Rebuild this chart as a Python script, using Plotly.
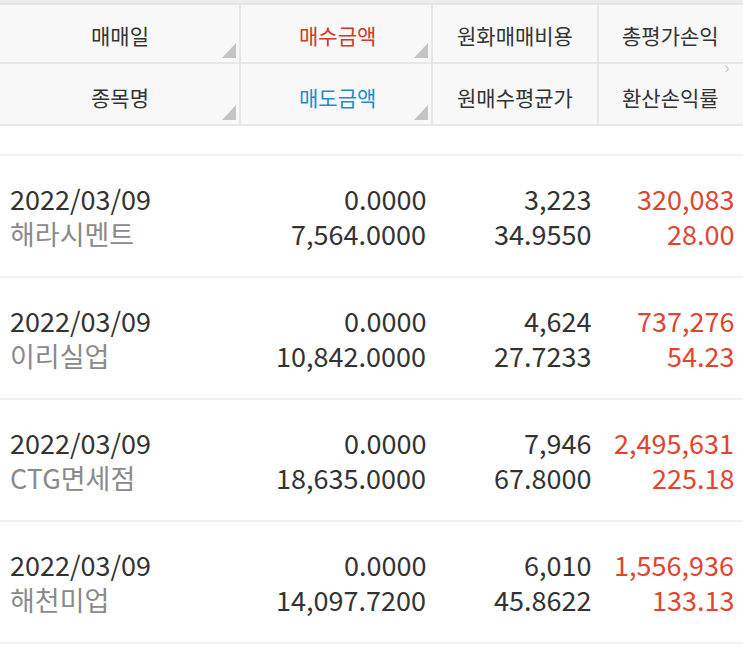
import plotly.graph_objects as go

headers_top = ["매매일", "매수금액", "원화매매비용", "총평가손익"]
headers_bot = ["종목명", "매도금액", "원매수평균가", "환산손익률"]
dates = ["2022/03/09", "2022/03/09", "2022/03/09", "2022/03/09"]
names = ["해라시멘트", "이리실업", "CTG면세점", "해천미업"]
buy_amt = ["0.0000", "0.0000", "0.0000", "0.0000"]
sell_amt = ["7,564.0000", "10,842.0000", "18,635.0000", "14,097.7200"]
krw_cost = ["3,223", "4,624", "7,946", "6,010"]
avg_price = ["34.9550", "27.7233", "67.8000", "45.8622"]
pnl = ["320,083", "737,276", "2,495,631", "1,556,936"]
rate = ["28.00", "54.23", "225.18", "133.13"]

W, H = 743, 648
font = "Noto Sans CJK KR"
fig = go.Figure()
shapes, ann = [], []
col_x = [0, 240, 432, 598, 743]
shapes.append(dict(type="rect", x0=0, x1=W, y0=0, y1=125, fillcolor="#f8f8f8", line_width=0, layer="below"))
shapes.append(dict(type="rect", x0=0, x1=W, y0=0, y1=4, fillcolor="#ececec", line_width=0, layer="below"))
for yy in [4, 63, 125]:
    shapes.append(dict(type="line", x0=0, x1=W, y0=yy, y1=yy, line=dict(color="#e2e2e2", width=1.5)))
for xx in col_x[1:4]:
    shapes.append(dict(type="line", x0=xx, x1=xx, y0=4, y1=125, line=dict(color="#e2e2e2", width=1.5)))
for xr in [236, 428]:
    for yb in [58, 120]:
        shapes.append(dict(type="path", path=f"M {xr} {yb} L {xr-14} {yb} L {xr} {yb-15} Z",
                           fillcolor="#c4c4c4", line_width=0))
hc = [120, 337, 515, 670]
top_colors = ["#333333", "#d0392b", "#333333", "#333333"]
bot_colors = ["#333333", "#1a8fd0", "#333333", "#333333"]
for i in range(4):
    ann.append(dict(x=hc[i], y=35, text=headers_top[i], font=dict(size=21, color=top_colors[i], family=font), showarrow=False))
    ann.append(dict(x=hc[i], y=97, text=headers_bot[i], font=dict(size=21, color=bot_colors[i], family=font), showarrow=False))
ann.append(dict(x=726, y=66, text="›", font=dict(size=18, color="#cccccc", family=font), showarrow=False))
for yy in [155, 277, 399, 521, 643]:
    shapes.append(dict(type="line", x0=0, x1=W, y0=yy, y1=yy, line=dict(color="#ececec", width=1.5)))
red = "#e0452f"
for r in range(4):
    y1 = 198 + 122 * r
    y2 = 233 + 122 * r
    def a(x, y, t, c, anc):
        ann.append(dict(x=x, y=y, text=t, xanchor=anc, font=dict(size=27, color=c, family=font), showarrow=False))
    a(8, y1, dates[r], "#333333", "left")
    a(8, y2, names[r], "#8a8a8a", "left")
    a(428, y1, buy_amt[r], "#333333", "right")
    a(428, y2, sell_amt[r], "#333333", "right")
    a(593, y1, krw_cost[r], "#333333", "right")
    a(593, y2, avg_price[r], "#333333", "right")
    a(736, y1, pnl[r], red, "right")
    a(736, y2, rate[r], red, "right")
fig.update_layout(width=W, height=H, margin=dict(l=0, r=0, t=0, b=0),
                  plot_bgcolor="white", paper_bgcolor="white", shapes=shapes, annotations=ann,
                  xaxis=dict(range=[0, W], visible=False, fixedrange=True),
                  yaxis=dict(range=[H, 0], visible=False, fixedrange=True), showlegend=False)
fig.write_html("out.html", config={"displayModeBar": False},
               post_script="document.body.style.margin='0';document.body.style.overflow='hidden';")
